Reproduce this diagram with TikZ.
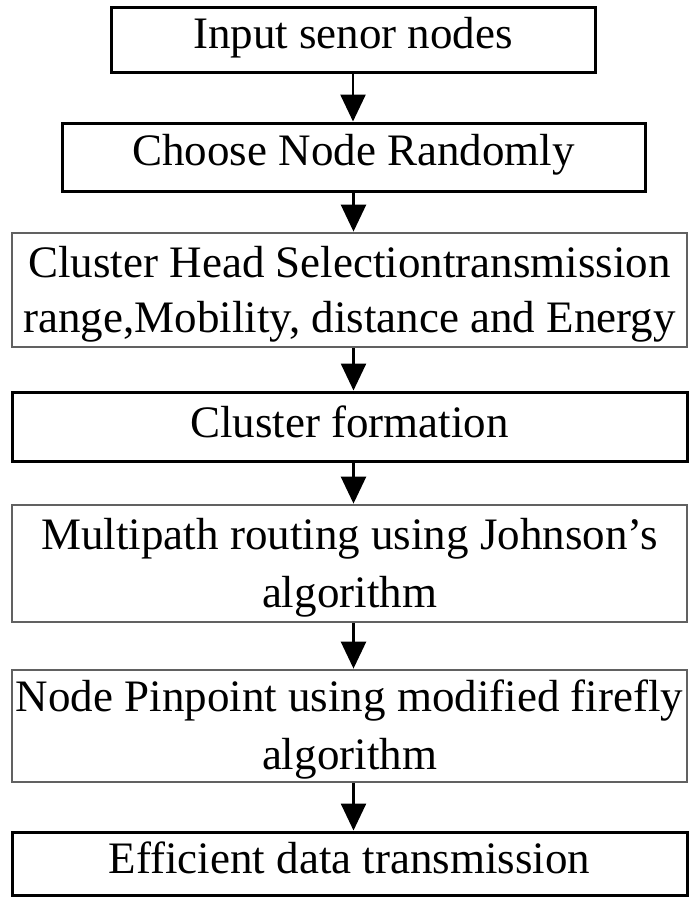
\documentclass[tikz,border=0pt]{standalone}
\usepackage{fontspec}
\setmainfont{Liberation Serif}
\usetikzlibrary{arrows.meta}
\begin{document}
\begin{tikzpicture}[x=1pt,y=-1pt,
  boxk/.style={draw=black,line width=3pt,inner sep=0pt},
  boxg/.style={draw=black!62,line width=2.8pt,inner sep=0pt},
  txt/.style={inner sep=0pt,anchor=base,font=\fontsize{45}{52}\selectfont},
  arr/.style={line width=2.6pt,-{Triangle[length=27pt,width=25pt]}}]
\useasboundingbox (0,0) rectangle (690,897);
% boxes
\node[boxk,minimum width=484pt,minimum height=65pt] (b1) at (353,39.5) {};
\node[boxk,minimum width=583pt,minimum height=68pt] (b2) at (353.5,157) {};
\node[boxg,minimum width=675pt,minimum height=114pt] (b3) at (349.5,290) {};
\node[boxk,minimum width=675pt,minimum height=69pt] (b4) at (349.5,426.5) {};
\node[boxg,minimum width=675pt,minimum height=117pt] (b5) at (349.5,563.5) {};
\node[boxg,minimum width=675pt,minimum height=112pt] (b6) at (349.5,726) {};
\node[boxk,minimum width=675pt,minimum height=63pt] (b7) at (349.5,863.5) {};
% texts
\node[txt] (t1) at (353,48) {Input senor nodes};
\node[txt] (t2) at (353.5,165) {Choose Node Randomly};
\node[txt] (t3a) at (349.5,277) {Cluster Head Selectiontransmission};
\node[txt] (t3b) at (349.5,332) {range,Mobility, distance and Energy};
\node[txt] (t4) at (349.5,437) {Cluster formation};
\node[txt] (t5a) at (349.5,549) {Multipath routing using Johnson’s};
\node[txt] (t5b) at (349.5,607) {algorithm};
\node[txt] (t6a) at (349.5,711) {Node Pinpoint using modified firefly};
\node[txt] (t6b) at (349.5,769) {algorithm};
\node[txt] (t7) at (349.5,873) {Efficient data transmission};
% arrows
\draw[arr] (b1.south) -- (b2.north -| b1.south);
\draw[arr] (b2.south) -- (b3.north -| b2.south);
\draw[arr] (b3.south -| b2.south) -- (b4.north -| b2.south);
\draw[arr] (b4.south -| b2.south) -- (b5.north -| b2.south);
\draw[arr] (b5.south -| b2.south) -- (b6.north -| b2.south);
\draw[arr] (b6.south -| b2.south) -- (b7.north -| b2.south);
\end{tikzpicture}
\end{document}
